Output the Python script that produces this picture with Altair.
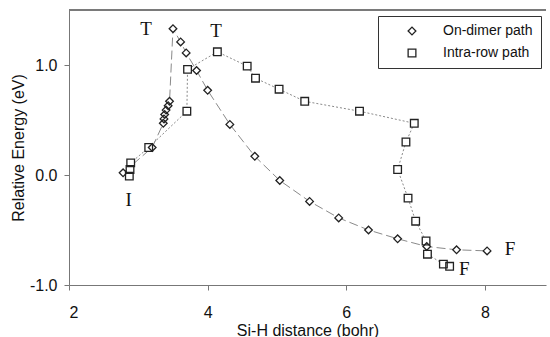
import altair as alt
import pandas as pd

# On-dimer path (diamonds)
dimer_x = [2.78, 3.20, 3.36, 3.37, 3.38, 3.40, 3.43, 3.45, 3.50, 3.61, 3.69, 3.84,
           4.00, 4.32, 4.68, 5.04, 5.47, 5.89, 6.32, 6.74, 7.16, 7.59, 8.03]
dimer_y = [0.02, 0.25, 0.47, 0.51, 0.55, 0.59, 0.63, 0.67, 1.33, 1.21, 1.11, 0.95,
           0.77, 0.46, 0.17, -0.05, -0.24, -0.39, -0.50, -0.58, -0.65, -0.68, -0.69]

# Intra-row path (squares)
row_x = [2.87, 2.88, 2.89, 3.15, 3.70, 3.71, 4.14, 4.57, 4.69, 5.03, 5.40, 6.19,
         6.98, 6.86, 6.74, 6.89, 7.00, 7.15, 7.17, 7.40, 7.49]
row_y = [-0.01, 0.05, 0.11, 0.25, 0.58, 0.96, 1.12, 0.99, 0.88, 0.78, 0.67, 0.58,
         0.47, 0.30, 0.05, -0.21, -0.42, -0.60, -0.72, -0.81, -0.83]

# Annotations
ann_text = ["T", "T", "I", "F", "F"]
ann_x = [3.11, 4.12, 2.86, 8.36, 7.70]
ann_y = [1.33, 1.31, -0.23, -0.67, -0.85]

series_names = ["On-dimer path", "Intra-row path"]

df = pd.concat([
    pd.DataFrame({"x": dimer_x, "y": dimer_y, "series": series_names[0],
                  "order": range(len(dimer_x))}),
    pd.DataFrame({"x": row_x, "y": row_y, "series": series_names[1],
                  "order": range(len(row_x))}),
])
ann = pd.DataFrame({"t": ann_text, "x": ann_x, "y": ann_y})

xscale = alt.Scale(domain=[2, 8.88], nice=False, zero=False)
yscale = alt.Scale(domain=[-1, 1.5], nice=False, zero=False)

xenc = alt.X("x:Q", scale=xscale,
             axis=alt.Axis(values=[2, 4, 6, 8], format="d", title="Si-H distance (bohr)",
                           grid=False))
yenc = alt.Y("y:Q", scale=yscale,
             axis=alt.Axis(values=[-1, 0, 1], format=".1f", title="Relative Energy (eV)",
                           labelExpr="replace(datum.label, '\u2212', '-')",
                           grid=False))

base = alt.Chart(df)

line_dimer = base.transform_filter(alt.datum.series == series_names[0]).mark_line(
    color="#8a8a8a", strokeWidth=1, strokeDash=[9, 4]).encode(
    x=xenc, y=yenc, order="order:Q")

line_row = base.transform_filter(alt.datum.series == series_names[1]).mark_line(
    color="#8a8a8a", strokeWidth=1, strokeDash=[2, 2]).encode(
    x=xenc, y=yenc, order="order:Q")

# white fills under the hollow markers (no legend)
fill_dimer = base.transform_filter(alt.datum.series == series_names[0]).mark_point(
    shape="diamond", filled=True, color="white", opacity=1, size=58).encode(x=xenc, y=yenc)
fill_row = base.transform_filter(alt.datum.series == series_names[1]).mark_point(
    shape="square", filled=True, color="white", opacity=1, size=58).encode(x=xenc, y=yenc)

shape_scale = alt.Scale(domain=series_names, range=["diamond", "square"])

points = base.mark_point(filled=False, color="#222", strokeWidth=1.3, opacity=1,
                         size=58).encode(
    x=xenc, y=yenc,
    shape=alt.Shape("series:N", scale=shape_scale,
                    legend=alt.Legend(title=" ", titleOrient="left", titleFontSize=8,
                                      titlePadding=19,
                                      orient="none", legendX=309, legendY=6,
                                      fillColor="white", strokeColor="#333",
                                      padding=8, labelOffset=24,
                                      rowPadding=8, labelFontSize=14,
                                      labelFont="Liberation Sans", labelColor="#111",
                                      symbolSize=60, symbolStrokeColor="#222",
                                      symbolStrokeWidth=1.3)),
)

labels = alt.Chart(ann).mark_text(font="Liberation Serif", fontSize=19, color="#111",
                                  align="center", baseline="middle").encode(
    x=alt.X("x:Q", scale=xscale), y=alt.Y("y:Q", scale=yscale), text="t:N")

topline = alt.Chart(ann).mark_rule(color="#777", strokeWidth=1).encode(
    x=alt.value(0), x2=alt.value(477), y=alt.value(0))

chart = alt.layer(topline, line_dimer, line_row, fill_dimer, fill_row, points,
                  labels).properties(
    width=477, height=275,
    padding={"left": 10, "top": 9, "right": 0, "bottom": 0},
).configure_view(stroke=None).configure_axis(
    domainColor="#777", tickColor="#777", tickSize=5,
    labelFont="Liberation Sans", labelFontSize=16, labelColor="#111",
    titleFont="Liberation Sans", titleFontSize=16, titleColor="#111",
    titleFontWeight="normal",
).configure_axisY(labelPadding=7, titlePadding=3).configure_axisX(
    labelPadding=14, titlePadding=2)

chart.save("out.html", embed_options={"renderer": "svg", "actions": False})
